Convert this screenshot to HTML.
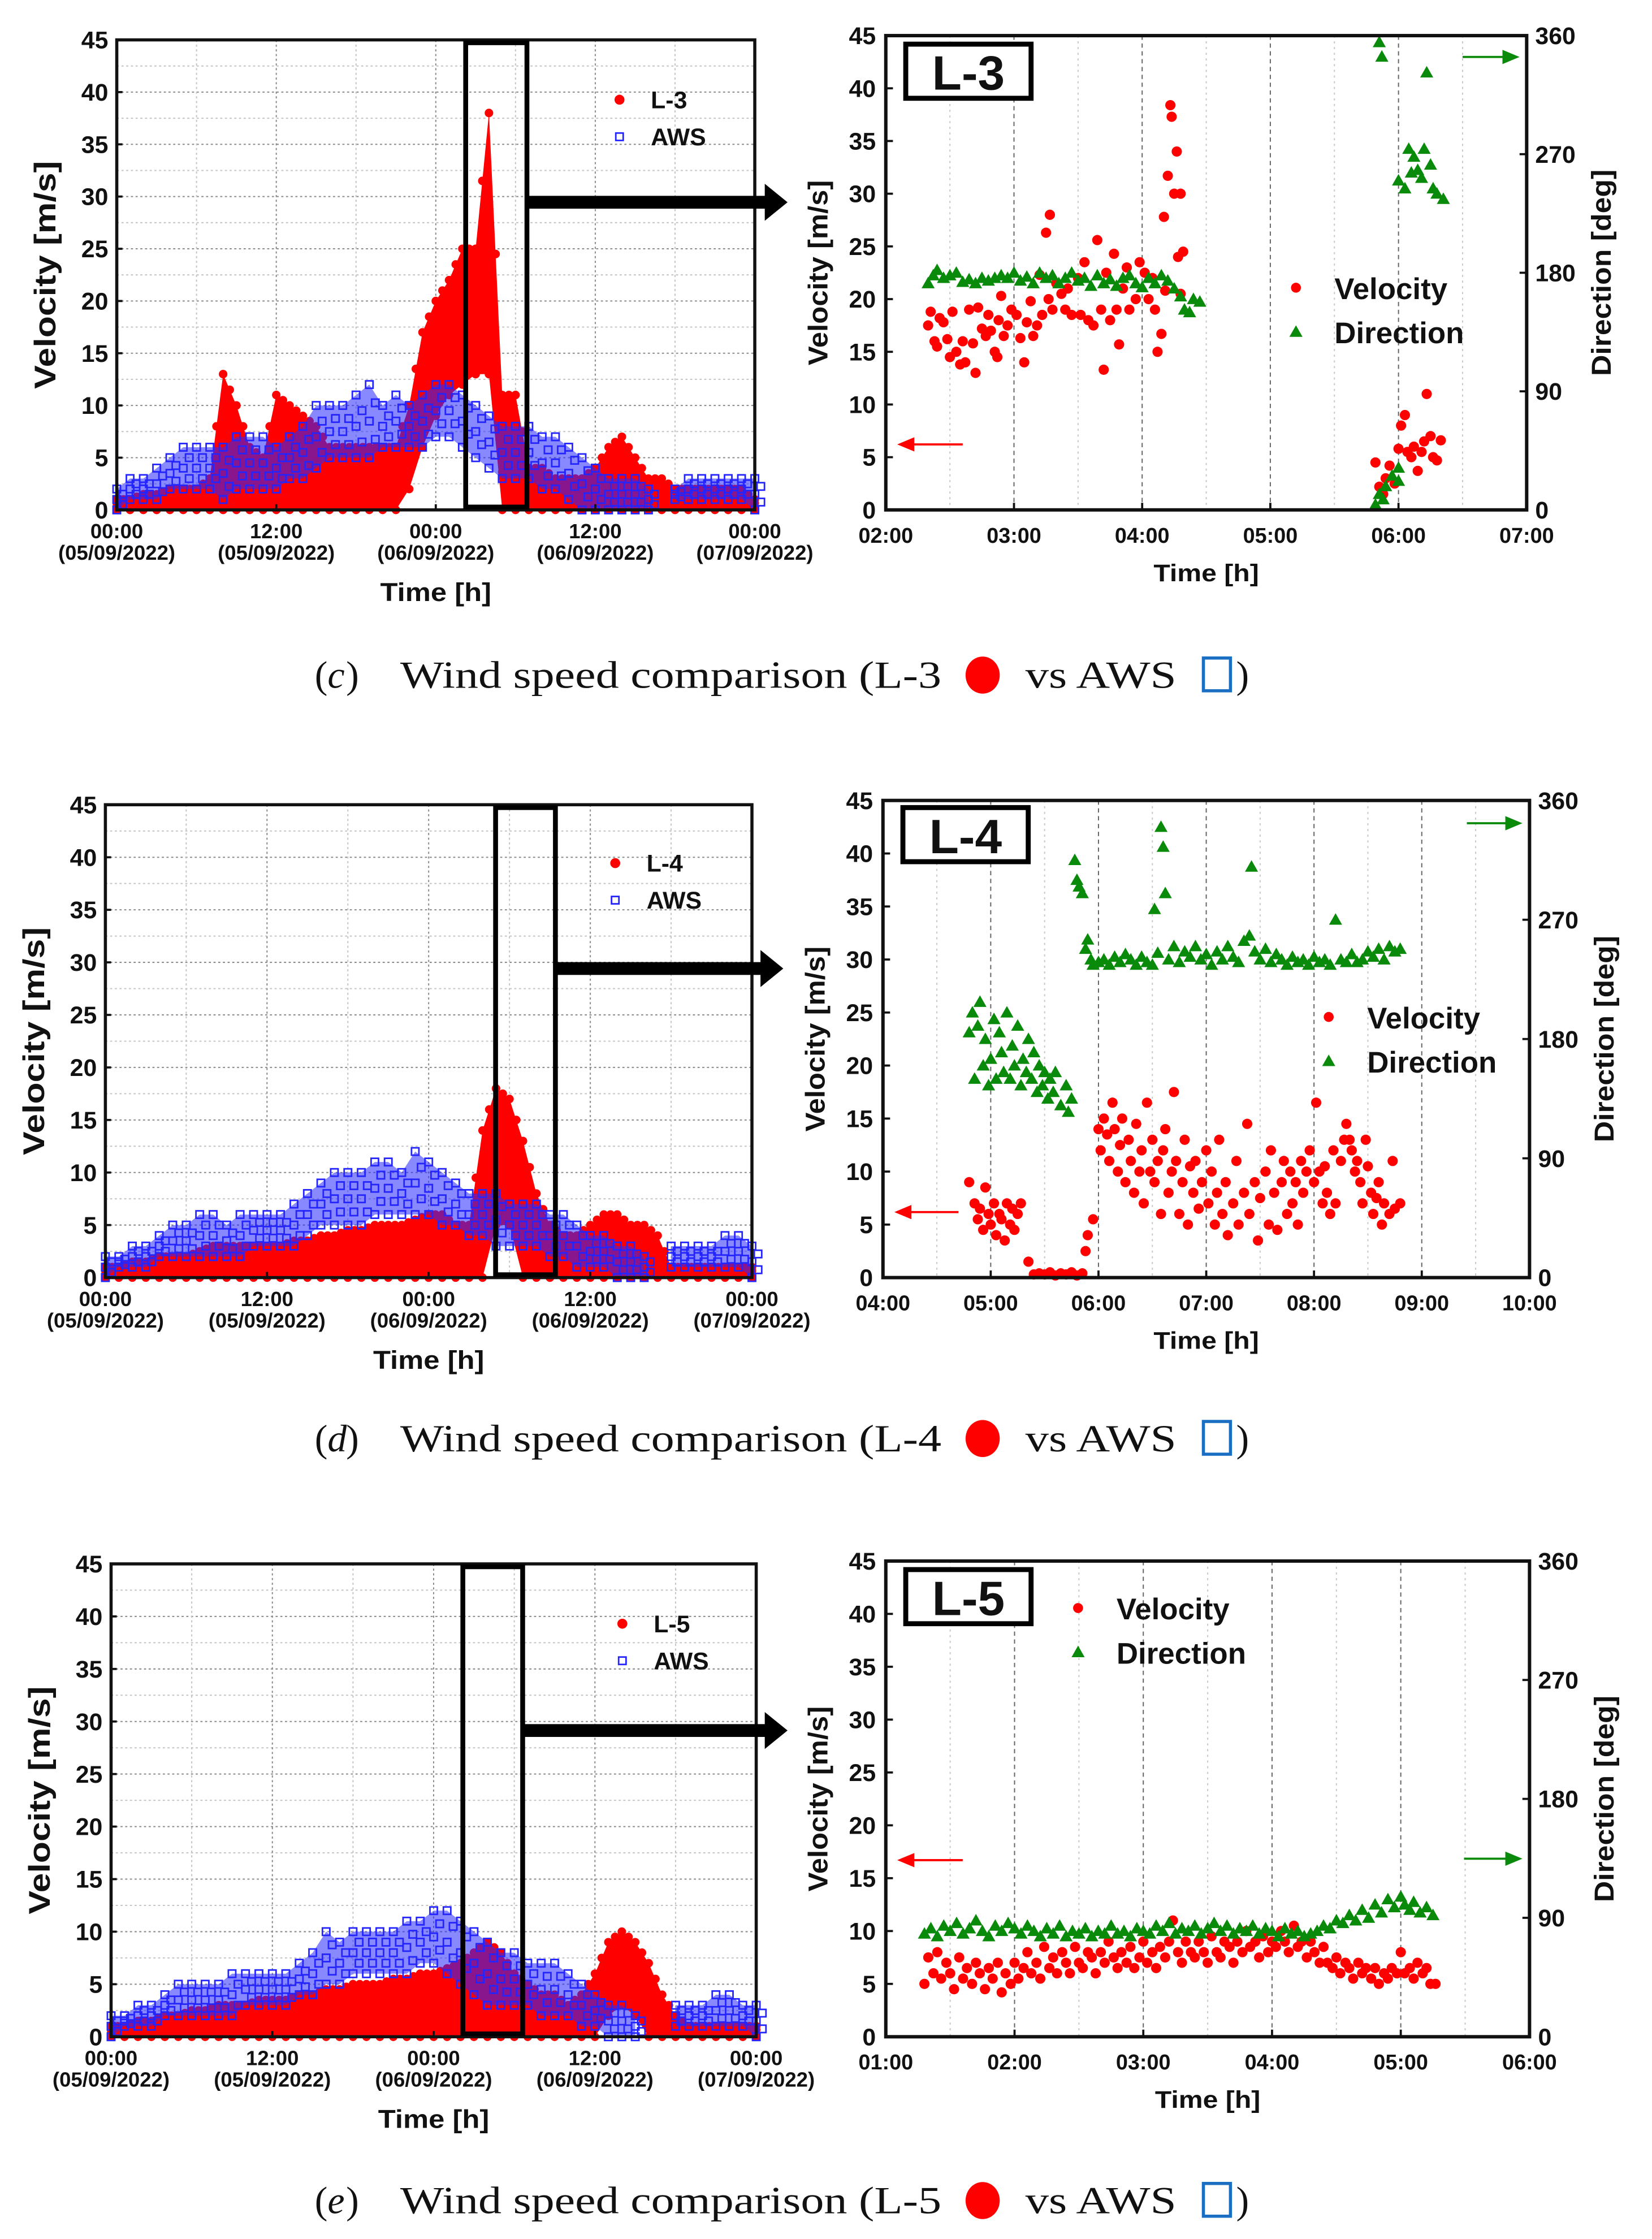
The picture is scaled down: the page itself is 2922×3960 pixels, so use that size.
<!DOCTYPE html>
<html><head><meta charset="utf-8"><title>Wind speed comparison</title>
<style>
html,body{margin:0;padding:0;background:#fff;}
svg{display:block;}
.t{font-family:"Liberation Sans",Arial,sans-serif;font-weight:bold;fill:#111;}
.cap{font-family:"Liberation Serif","Times New Roman",serif;fill:#111;}
</style></head>
<body>
<svg id="fig" width="2922" height="3960" viewBox="0 0 1160 1572" preserveAspectRatio="none"></svg>
<script>
// ---------- Data: overview charts (hourly bands, hour 0..48) ----------
const hours = [0,1,2,3,4,5,6,7,8,9,10,11,12,13,14,15,16,17,18,19,20,21,22,23,24,25,26,27,28,29,30,31,32,33,34,35,36,37,38,39,40,41,42,43,44,45,46,47,48];
const leftXTicks = ['00:00','12:00','00:00','12:00','00:00'];
const leftXDates = ['(05/09/2022)','(05/09/2022)','(06/09/2022)','(06/09/2022)','(07/09/2022)'];
const velTicks = [0,5,10,15,20,25,30,35,40,45];
const dirTicks = [0,90,180,270,360];

const cL3Hi = [1,1,1.5,1.5,2,2,2,3,13,10,6,5,11,10,9,8,6,6,6,6,6,6,10,17,20,22,25,25,38,11,11,4,4,3,3,3,4,6,7,5,3,3,2,2,2,2,2,2,1];
const cL3Lo = [0,0,0,0,0,0,0,0,0,0,0,0,0,0,0,0,0,0,0,0,0,0,2,6,9,11,12,13,13,0,0,0,0,0,0,0,0,0,0,0,0,0,0,0,0,0,0,0,0];
const cAwsLo = [0,1,1,1,2,2,2,2,1,2,2,2,2,3,3,4,5,5,5,5,6,6,6,6,7,7,6,5,4,3,3,3,2,2,1,0,0,0,0,0,0,null,1,1,1,1,1,1,0];
const cAwsHi = [2,3,3,4,5,6,6,6,6,7,7,7,6,7,8,10,10,10,11,12,10,11,10,11,12,12,11,10,9,8,8,8,7,7,6,5,4,3,3,3,2,null,2,3,3,3,3,3,3];

const dL4Hi = [1,1,1.5,1.5,2,2,2,2.5,3,3,3,3,3,3,3.5,3.5,4,4,4.5,4.5,5,5,5,5.5,6,6,5,5,14,18,17,13,8,5,4,4,5,6,6,5,5,4,1,1,1,1,1,1,1];
const dL4Lo = [0,0,0,0,0,0,0,0,0,0,0,0,0,0,0,0,0,0,0,0,0,0,0,0,0,0,0,0,0,5,5,0,0,0,0,0,0,0,0,0,0,0,0,0,0,0,0,0,0];
const dAwsLo = [0,1,1,1,2,2,2,2,2,2,2,3,3,3,3,4,5,5,5,5,6,6,6,6,6,5,5,4,4,3,3,3,3,2,2,1,1,1,0,0,0,null,1,1,1,1,1,1,0];
const dAwsHi = [2,2,3,3,4,5,5,6,6,5,6,6,6,6,7,8,9,10,10,10,11,11,10,12,11,10,9,8,8,8,7,7,7,6,6,5,4,4,3,3,2,null,3,3,3,3,4,4,3];

const eL5Hi = [1,1,1.5,1.5,2,2,2.5,2.5,3,3,3,3.5,3.5,3.5,4,4,4.5,4.5,5,5,5,5.5,5.5,6,6,6.5,7,8,9,8,6,5,4,4,3,4,6,9,10,9,7,4,2,1,1,1,1,1,1];
const eL5Lo = [0,0,0,0,0,0,0,0,0,0,0,0,0,0,0,0,0,0,0,0,0,0,0,0,0,0,0,0,0,0,0,0,0,0,0,0,0,2,3,2,0,0,0,0,0,0,0,0,0];
const eAwsLo = [0,1,1,1,2,2,2,2,2,2,3,3,3,3,4,4,5,5,6,6,6,6,6,7,7,6,5,4,3,3,3,3,2,2,2,1,1,0,0,0,null,null,1,1,1,1,1,1,0];
const eAwsHi = [2,2,3,3,4,5,5,5,5,6,6,6,6,6,7,8,10,9,10,10,10,10,11,11,12,12,11,10,9,8,8,7,7,7,6,5,4,3,3,2,null,null,3,3,3,4,4,3,3];

// ---------- Data: zoomed charts ([time in hours, value]) ----------
const cXTicks = ['02:00','03:00','04:00','05:00','06:00','07:00'];
const cVel = [[2.33,17.5],[2.35,18.8],[2.38,16],[2.4,15.5],[2.42,18.2],[2.45,17.8],[2.48,16.2],[2.5,14.5],[2.52,18.8],[2.55,15],[2.58,13.8],[2.6,16],[2.62,14],[2.65,19],[2.68,15.8],[2.7,13],[2.72,19.2],[2.75,17.2],[2.78,16.5],[2.8,18.5],[2.82,17],[2.85,15],[2.87,14.5],[2.88,18],[2.9,20.3],[2.92,16.5],[2.95,17.5],[2.98,19],[3.02,18.5],[3.05,16.3],[3.08,14],[3.1,17.8],[3.13,19.8],[3.15,16.5],[3.18,17.5],[3.2,22.3],[3.22,18.5],[3.25,26.3],[3.28,28],[3.27,20],[3.3,19],[3.33,21.5],[3.37,20.5],[3.4,19],[3.42,21],[3.45,18.5],[3.5,22],[3.52,18.5],[3.55,23.5],[3.58,18],[3.62,17.5],[3.65,25.6],[3.68,19],[3.7,13.3],[3.72,22.5],[3.75,18],[3.78,24.3],[3.8,19],[3.82,15.7],[3.85,21],[3.88,23],[3.9,19],[3.95,20],[3.98,23.5],[4.02,22.5],[4.05,20],[4.08,22],[4.1,19],[4.12,15],[4.15,16.7],[4.17,27.8],[4.18,20.8],[4.2,31.7],[4.22,38.4],[4.23,37.3],[4.27,34],[4.25,30],[4.3,30],[4.28,24],[4.32,24.5],[4.3,20.5],[5.82,4.5],[5.85,2.2],[5.88,1.5],[5.9,3],[5.93,4.2],[5.97,2.5],[6.0,5.8],[6.02,8],[6.05,9],[6.07,5.5],[6.1,5],[6.12,6],[6.15,3.7],[6.18,5.5],[6.2,6.5],[6.22,11],[6.25,7],[6.27,5],[6.3,4.7],[6.33,6.6]];
const cDir = [[2.33,172],[2.37,178],[2.4,182],[2.45,176],[2.5,178],[2.55,180],[2.6,173],[2.65,175],[2.7,172],[2.75,176],[2.8,174],[2.85,176],[2.9,178],[2.95,176],[3.0,180],[3.05,174],[3.1,177],[3.15,172],[3.2,180],[3.25,176],[3.3,178],[3.35,172],[3.4,176],[3.45,180],[3.5,174],[3.55,176],[3.6,170],[3.65,178],[3.7,172],[3.75,175],[3.8,170],[3.85,176],[3.9,178],[3.95,172],[4.0,169],[4.05,176],[4.1,172],[4.15,178],[4.2,174],[4.25,168],[4.3,162],[4.33,152],[4.37,150],[4.4,160],[4.45,158],[5.85,355],[5.87,344],[6.22,332],[6.08,274],[6.12,268],[6.2,274],[6.0,250],[6.05,244],[6.1,256],[6.15,258],[6.18,252],[6.25,262],[6.27,244],[6.3,240],[6.35,236],[5.82,4],[5.85,12],[5.9,18],[5.95,26],[6.0,32],[6.0,22],[5.88,8]];

const dXTicks = ['04:00','05:00','06:00','07:00','08:00','09:00','10:00'];
const dVel = [[4.8,9],[4.85,7],[4.88,5.5],[4.9,6.5],[4.93,4.5],[4.95,8.5],[4.98,6],[5.0,5],[5.03,7],[5.05,4],[5.08,6],[5.1,5.5],[5.13,3.5],[5.15,7],[5.18,5],[5.2,6.5],[5.22,4.5],[5.25,6],[5.28,7],[5.35,1.5],[5.4,0.3],[5.45,0.4],[5.5,0.3],[5.55,0.5],[5.6,0.2],[5.65,0.4],[5.7,0.3],[5.75,0.5],[5.8,0.2],[5.85,0.4],[5.88,2.5],[5.9,4],[5.95,5.5],[6.0,14],[6.02,12],[6.05,15],[6.08,13.5],[6.1,11],[6.13,16.5],[6.15,14],[6.18,10],[6.2,12.5],[6.22,15],[6.25,9],[6.28,13],[6.3,11],[6.33,8],[6.35,14.5],[6.38,10],[6.4,12],[6.42,7],[6.45,16.5],[6.48,10],[6.5,13],[6.52,9],[6.55,11],[6.58,6],[6.6,12],[6.62,14],[6.65,8],[6.68,10],[6.7,17.5],[6.72,11],[6.75,6],[6.78,9],[6.8,13],[6.83,5],[6.85,10.5],[6.88,8],[6.9,11],[6.93,6.5],[6.96,9],[7.0,12],[7.02,7],[7.05,10],[7.08,5],[7.1,8],[7.12,13],[7.15,6],[7.18,9],[7.2,4],[7.25,7],[7.28,11],[7.3,5],[7.35,8],[7.38,14.5],[7.4,6],[7.45,9],[7.48,3.5],[7.5,7.5],[7.55,10],[7.58,5],[7.6,12],[7.63,8],[7.66,4.5],[7.7,9],[7.72,11],[7.75,6],[7.78,10],[7.8,7],[7.83,9],[7.85,5],[7.88,11],[7.9,8],[7.93,10],[7.96,12],[8.0,9],[8.02,16.5],[8.05,10],[8.08,7],[8.1,10.5],[8.12,8],[8.15,6],[8.18,12],[8.2,7],[8.25,11],[8.28,13],[8.3,14.5],[8.33,13],[8.35,12],[8.38,10],[8.4,11],[8.43,9],[8.45,7],[8.48,13],[8.5,10.5],[8.53,8],[8.55,6],[8.58,7.5],[8.6,9],[8.63,5],[8.65,7],[8.7,6],[8.73,11],[8.75,6.5],[8.8,7]];
const dDir = [[4.8,185],[4.83,200],[4.85,150],[4.88,190],[4.9,208],[4.93,160],[4.95,180],[4.98,145],[5.0,165],[5.03,195],[5.05,150],[5.08,185],[5.1,170],[5.12,155],[5.15,200],[5.18,150],[5.2,175],[5.22,160],[5.25,190],[5.28,145],[5.3,165],[5.33,155],[5.35,180],[5.38,150],[5.4,170],[5.43,140],[5.45,160],[5.48,145],[5.5,155],[5.53,135],[5.55,150],[5.58,140],[5.6,155],[5.65,130],[5.7,145],[5.72,125],[5.75,135],[5.78,315],[5.8,300],[5.82,295],[5.85,290],[5.88,248],[5.9,255],[5.93,240],[5.95,236],[6.0,238],[6.05,240],[6.1,236],[6.15,242],[6.2,238],[6.25,244],[6.3,240],[6.35,236],[6.4,242],[6.45,238],[6.5,236],[6.52,278],[6.55,245],[6.58,340],[6.6,325],[6.62,290],[6.65,240],[6.7,250],[6.75,238],[6.8,246],[6.85,242],[6.9,250],[6.95,240],[7.0,244],[7.05,236],[7.1,246],[7.15,240],[7.2,250],[7.25,242],[7.3,238],[7.35,254],[7.4,258],[7.42,310],[7.45,246],[7.5,240],[7.55,248],[7.6,238],[7.65,244],[7.7,240],[7.75,236],[7.8,242],[7.85,238],[7.9,240],[7.95,236],[8.0,242],[8.05,238],[8.1,240],[8.15,236],[8.2,270],[8.25,240],[8.3,238],[8.35,244],[8.4,238],[8.45,240],[8.5,246],[8.55,242],[8.6,248],[8.65,240],[8.7,250],[8.75,246],[8.8,248]];

const eXTicks = ['01:00','02:00','03:00','04:00','05:00','06:00'];
const eVel = [[1.3,5],[1.33,7.5],[1.37,6],[1.4,8],[1.43,5.5],[1.47,7],[1.5,6],[1.53,4.5],[1.57,7.5],[1.6,5.5],[1.63,6.5],[1.67,5],[1.7,7],[1.73,6],[1.77,4.5],[1.8,6.5],[1.83,5.5],[1.87,7],[1.9,4.2],[1.93,6],[1.97,5],[2.0,7],[2.03,5.5],[2.07,6.5],[2.1,8],[2.13,6],[2.17,7],[2.2,5.5],[2.23,8.5],[2.27,6.5],[2.3,7.5],[2.33,6],[2.37,8],[2.4,7],[2.43,6],[2.47,8.5],[2.5,7],[2.53,6.5],[2.57,8],[2.6,7.5],[2.63,6],[2.67,8],[2.7,7],[2.73,9],[2.77,7.5],[2.8,6.5],[2.83,8],[2.87,7],[2.9,8.5],[2.93,6.5],[2.97,7.5],[3.0,9],[3.03,7],[3.07,8],[3.1,6.5],[3.13,8.5],[3.17,7.5],[3.2,9],[3.23,11],[3.27,8],[3.3,7],[3.33,9],[3.37,8],[3.4,7.5],[3.43,9],[3.47,8],[3.5,7],[3.53,9.5],[3.57,8],[3.6,7.5],[3.63,9],[3.67,8.5],[3.7,7],[3.73,9],[3.77,8],[3.8,10],[3.83,8.5],[3.87,9],[3.9,7.5],[3.93,9.5],[3.97,8],[4.0,9],[4.03,8.5],[4.07,10],[4.1,9],[4.13,8],[4.17,10.5],[4.2,8.5],[4.23,9],[4.27,7.5],[4.3,9],[4.33,8],[4.37,7],[4.4,8.5],[4.43,7],[4.47,6.5],[4.5,7.5],[4.53,6],[4.57,7],[4.6,6.5],[4.63,5.5],[4.67,7],[4.7,6],[4.73,6.5],[4.77,5.5],[4.8,6.5],[4.83,5],[4.87,6],[4.9,5.5],[4.93,6.5],[4.97,6],[5.0,8],[5.03,6],[5.07,6.5],[5.1,5.5],[5.13,7],[5.17,6],[5.2,6.5],[5.23,5],[5.27,5]];
const eDir = [[1.3,78],[1.35,82],[1.4,76],[1.45,84],[1.5,80],[1.55,86],[1.6,78],[1.65,82],[1.7,88],[1.75,80],[1.8,76],[1.85,84],[1.9,80],[1.95,86],[2.0,82],[2.05,78],[2.1,84],[2.15,80],[2.2,76],[2.25,82],[2.3,78],[2.35,84],[2.4,76],[2.45,80],[2.5,78],[2.55,82],[2.6,76],[2.65,80],[2.7,78],[2.75,84],[2.8,78],[2.85,80],[2.9,76],[2.95,82],[3.0,80],[3.05,78],[3.1,84],[3.15,80],[3.2,86],[3.25,78],[3.3,82],[3.35,80],[3.4,84],[3.45,78],[3.5,82],[3.55,86],[3.6,80],[3.65,84],[3.7,78],[3.75,82],[3.8,80],[3.85,84],[3.9,78],[3.95,82],[4.0,80],[4.05,76],[4.1,82],[4.15,78],[4.2,80],[4.25,76],[4.3,78],[4.35,80],[4.4,84],[4.45,82],[4.5,88],[4.55,86],[4.6,92],[4.65,88],[4.7,96],[4.75,90],[4.8,100],[4.85,94],[4.9,104],[4.95,98],[5.0,106],[5.03,100],[5.07,96],[5.1,102],[5.15,94],[5.2,98],[5.25,92]];

// ---------- Rendering ----------
const svg = document.getElementById('fig');
const NS = svg.namespaceURI;
function mk(tag, attrs, parent, name, inter) {
  const el = document.createElementNS(NS, tag);
  for (const k in attrs) el.setAttribute(k, attrs[k]);
  
  
  parent.appendChild(el);
  return el;
}
function txt(parent, x, y, s, size, anchor, name, cls, extra) {
  const a = {x: x, y: y, 'font-size': size, 'text-anchor': anchor || 'middle', 'class': cls || 't'};
  if (extra) for (const k in extra) a[k] = extra[k];
  const el = mk('text', a, parent, name, false);
  el.textContent = s;
  return el;
}
const RED = '#ff0000', BLUE = '#2424ff', GREEN = '#0a8a0a';

function dot(g, x, y, r, name) {
  return mk('circle', {cx: x.toFixed(2), cy: y.toFixed(2), r: r, fill: RED}, g, name, false);
}
function sq(g, x, y, name) {
  return mk('rect', {x: (x - 2.6).toFixed(2), y: (y - 2.6).toFixed(2), width: 5.2, height: 5.2, fill: 'none', stroke: BLUE, 'stroke-width': 1.1}, g, name, false);
}
function tri(g, x, y, name) {
  return mk('polygon', {points: `${x.toFixed(2)},${(y - 4.6).toFixed(2)} ${(x - 4.6).toFixed(2)},${(y + 3.5).toFixed(2)} ${(x + 4.6).toFixed(2)},${(y + 3.5).toFixed(2)}`, fill: GREEN}, g, name, false);
}

function band(g, xs, ys, lo, hi, fill, name) {
  let seg = [];
  const segs = [];
  for (let i = 0; i < hours.length; i++) {
    if (lo[i] === null || hi[i] === null) { if (seg.length) segs.push(seg); seg = []; }
    else seg.push(i);
  }
  if (seg.length) segs.push(seg);
  segs.forEach(s => {
    const pts = [];
    s.forEach(i => pts.push(xs(hours[i]).toFixed(2) + ',' + ys(hi[i]).toFixed(2)));
    s.slice().reverse().forEach(i => pts.push(xs(hours[i]).toFixed(2) + ',' + ys(lo[i]).toFixed(2)));
    mk('polygon', {points: pts.join(' '), fill: fill}, g, name, false);
  });
}

function leftChart(cfg) {
  const g = mk('g', {}, svg, cfg.name, false);
  const {x0, x1, y0, y1} = cfg;
  const xs = h => x0 + h / 48 * (x1 - x0);
  const ys = v => y1 - v / 45 * (y1 - y0);
  const grid = mk('g', {}, g, 'grid', false);
  for (let v = 2.5; v < 45; v += 2.5) {
    const major = Math.abs(v % 5) < 0.01;
    mk('line', {x1: x0, x2: x1, y1: ys(v), y2: ys(v), stroke: major ? '#8a8a8a' : '#c4c4c4', 'stroke-width': 0.8, 'stroke-dasharray': '1.5 1.8'}, grid, 'h-gridline', false);
  }
  for (let h = 6; h < 48; h += 6) {
    const major = h % 12 === 0;
    mk('line', {x1: xs(h), x2: xs(h), y1: y0, y2: y1, stroke: major ? '#8a8a8a' : '#c4c4c4', 'stroke-width': 0.8, 'stroke-dasharray': '1.5 1.8'}, grid, 'v-gridline', false);
  }
  const lg = mk('g', {}, g, 'lidar-series', false);
  band(lg, xs, ys, cfg.lo, cfg.hi, RED, 'lidar-band');
  for (let i = 0; i < hours.length; i++) {
    const lo = cfg.lo[i], hi = cfg.hi[i];
    [0, 0.33, 0.66, 1].forEach(f => {
      dot(lg, xs(hours[i]), ys(lo + (hi - lo) * f), 3, 'lidar-point');
    });
    if (i < hours.length - 1) {
      dot(lg, xs(hours[i] + 0.5), ys((hi + cfg.hi[i + 1]) / 2), 3, 'lidar-point');
    }
  }
  const ag = mk('g', {}, g, 'aws-series', false);
  band(ag, xs, ys, cfg.alo, cfg.ahi, 'rgba(40,40,255,0.55)', 'aws-band');
  for (let i = 0; i < hours.length; i++) {
    const lo = cfg.alo[i], hi = cfg.ahi[i];
    if (lo === null || hi === null) continue;
    [0, 0.25, 0.5, 0.75, 1].forEach((f, k) => {
      sq(ag, xs(hours[i] + (k % 2) * 0.45), ys(lo + (hi - lo) * f), 'aws-point');
    });
  }
  mk('rect', {x: x0, y: y0, width: x1 - x0, height: y1 - y0, fill: 'none', stroke: '#111', 'stroke-width': 2.2}, g, 'plot-frame', false);
  velTicks.forEach(v => {
    mk('line', {x1: x0, x2: x0 + 4, y1: ys(v), y2: ys(v), stroke: '#111', 'stroke-width': 1.5}, g, 'y-tick', false);
    txt(g, x0 - 6, ys(v) + 6, String(v), 17, 'end', 'y-tick-label');
  });
  leftXTicks.forEach((s, i) => {
    const x = xs(i * 12);
    mk('line', {x1: x, x2: x, y1: y1, y2: y1 - 4, stroke: '#111', 'stroke-width': 1.5}, g, 'x-tick', false);
    txt(g, x, y1 + 20, s, 14.5, 'middle', 'x-tick-label');
    txt(g, x, y1 + 35, leftXDates[i], 14.5, 'middle', 'x-tick-date');
  });
  txt(g, (x0 + x1) / 2, y1 + 64, 'Time [h]', 18, 'middle', 'x-axis-title', 't', {textLength: 78, lengthAdjust: 'spacingAndGlyphs'});
  txt(g, 0, 0, 'Velocity [m/s]', 21, 'middle', 'y-axis-title', 't', {transform: `translate(${x0 - 43},${(y0 + y1) / 2}) rotate(-90)`, textLength: 160, lengthAdjust: 'spacingAndGlyphs'});
  mk('rect', {x: cfg.bx0, y: y0 + 2, width: cfg.bx1 - cfg.bx0, height: y1 - y0 - 4, fill: 'none', stroke: '#000', 'stroke-width': 3.4}, g, 'zoom-window-box', false);
  mk('rect', {x: cfg.bx1, y: cfg.ay - 4.5, width: cfg.ax - 14 - cfg.bx1, height: 9, fill: '#000'}, g, 'zoom-arrow-shaft', false);
  mk('polygon', {points: `${cfg.ax - 16},${cfg.ay - 13} ${cfg.ax},${cfg.ay} ${cfg.ax - 16},${cfg.ay + 13}`, fill: '#000'}, g, 'zoom-arrow-head', false);
  const leg = mk('g', {}, g, 'legend', false);
  dot(leg, cfg.lx, cfg.ly, 3.5, 'legend-lidar-marker');
  txt(leg, cfg.lx + 22, cfg.ly + 6, cfg.label, 17, 'start', 'legend-lidar-label');
  sq(leg, cfg.lx, cfg.ly + 26, 'legend-aws-marker');
  txt(leg, cfg.lx + 22, cfg.ly + 32, 'AWS', 17, 'start', 'legend-aws-label');
}

function rightChart(cfg) {
  const g = mk('g', {}, svg, cfg.name, false);
  const {x0, x1, y0, y1, t0, t1} = cfg;
  const xs = t => x0 + (t - t0) / (t1 - t0) * (x1 - x0);
  const ys = v => y1 - v / 45 * (y1 - y0);
  const yd = d => y1 - d / 360 * (y1 - y0);
  const grid = mk('g', {}, g, 'grid', false);
  for (let t = t0 + 0.5; t < t1; t += 0.5) {
    const major = Math.abs(t % 1) < 0.01;
    mk('line', {x1: xs(t), x2: xs(t), y1: y0, y2: y1, stroke: major ? '#666' : '#c8c8c8', 'stroke-width': 0.8, 'stroke-dasharray': major ? '3 2.5' : '1.5 2.5'}, grid, 'v-gridline', false);
  }
  const vg = mk('g', {}, g, 'velocity-series', false);
  cfg.vel.forEach(p => dot(vg, xs(p[0]), ys(p[1]), 3.6, 'velocity-point'));
  const dg = mk('g', {}, g, 'direction-series', false);
  cfg.dir.forEach(p => tri(dg, xs(p[0]), yd(p[1]), 'direction-point'));
  mk('rect', {x: x0, y: y0, width: x1 - x0, height: y1 - y0, fill: 'none', stroke: '#111', 'stroke-width': 2.4}, g, 'plot-frame', false);
  velTicks.forEach(v => {
    mk('line', {x1: x0, x2: x0 + 5, y1: ys(v), y2: ys(v), stroke: '#111', 'stroke-width': 1.5}, g, 'y-tick', false);
    txt(g, x0 - 7, ys(v) + 6, String(v), 17, 'end', 'y-tick-label');
  });
  dirTicks.forEach(d => {
    mk('line', {x1: x1, x2: x1 - 5, y1: yd(d), y2: yd(d), stroke: '#111', 'stroke-width': 1.5}, g, 'y2-tick', false);
    txt(g, x1 + 6, yd(d) + 6, String(d), 17, 'start', 'y2-tick-label');
  });
  cfg.ticks.forEach((s, i) => {
    const x = xs(t0 + i);
    mk('line', {x1: x, x2: x, y1: y1, y2: y1 - 5, stroke: '#111', 'stroke-width': 1.5}, g, 'x-tick', false);
    txt(g, x, y1 + 23, s, 15, 'middle', 'x-tick-label');
  });
  txt(g, (x0 + x1) / 2, y1 + 50, 'Time [h]', 17, 'middle', 'x-axis-title', 't', {textLength: 74, lengthAdjust: 'spacingAndGlyphs'});
  txt(g, 0, 0, 'Velocity [m/s]', 19, 'middle', 'y-axis-title', 't', {transform: `translate(${x0 - 41},${(y0 + y1) / 2}) rotate(-90)`, textLength: 130, lengthAdjust: 'spacingAndGlyphs'});
  txt(g, 0, 0, 'Direction [deg]', 19, 'middle', 'y2-axis-title', 't', {transform: `translate(${x1 + 59},${(y0 + y1) / 2}) rotate(-90)`, textLength: 145, lengthAdjust: 'spacingAndGlyphs'});
  mk('rect', {x: x0 + 14, y: cfg.by, width: 88, height: 38, fill: '#fff', stroke: '#000', 'stroke-width': 3.5}, g, 'sensor-label-box', false);
  txt(g, x0 + 58, cfg.by + 32, cfg.label, 34, 'middle', 'sensor-label');
  const leg = mk('g', {}, g, 'legend', false);
  dot(leg, cfg.lx, cfg.ly, 3.5, 'legend-velocity-marker');
  txt(leg, cfg.lx + 27, cfg.ly + 8, 'Velocity', 21, 'start', 'legend-velocity-label');
  tri(leg, cfg.lx, cfg.ly + 31, 'legend-direction-marker');
  txt(leg, cfg.lx + 27, cfg.ly + 39, 'Direction', 21, 'start', 'legend-direction-label');
  mk('line', {x1: cfg.rax1, x2: x0 + 10, y1: cfg.ray, y2: cfg.ray, stroke: RED, 'stroke-width': 1.5}, g, 'velocity-axis-arrow', false);
  mk('polygon', {points: `${x0 + 8},${cfg.ray} ${x0 + 20},${cfg.ray - 5} ${x0 + 20},${cfg.ray + 5}`, fill: RED}, g, 'velocity-axis-arrowhead', false);
  mk('line', {x1: cfg.gax0, x2: x1 - 8, y1: cfg.gay, y2: cfg.gay, stroke: GREEN, 'stroke-width': 1.5}, g, 'direction-axis-arrow', false);
  mk('polygon', {points: `${x1 - 5},${cfg.gay} ${x1 - 17},${cfg.gay - 5} ${x1 - 17},${cfg.gay + 5}`, fill: GREEN}, g, 'direction-axis-arrowhead', false);
}

function caption(y, letter, label, name) {
  const g = mk('g', {}, svg, name, false);
  txt(g, 221, y, '(', 27, 'start', 'caption-paren', 'cap');
  txt(g, 230, y, letter, 27, 'start', 'caption-letter', 'cap', {'font-style': 'italic'});
  txt(g, 243, y, ')', 27, 'start', 'caption-paren', 'cap');
  txt(g, 281, y, 'Wind speed comparison (' + label, 27, 'start', 'caption-text', 'cap', {textLength: 380, lengthAdjust: 'spacingAndGlyphs'});
  mk('ellipse', {cx: 690, cy: y - 9, rx: 12, ry: 13, fill: RED}, g, 'caption-lidar-marker', false);
  txt(g, 720, y, 'vs AWS', 27, 'start', 'caption-aws-text', 'cap', {textLength: 106, lengthAdjust: 'spacingAndGlyphs'});
  mk('rect', {x: 845, y: y - 21, width: 19, height: 23, fill: 'none', stroke: '#1a6fc2', 'stroke-width': 2.2}, g, 'caption-aws-marker', false);
  txt(g, 868, y, ')', 27, 'start', 'caption-close', 'cap');
}

leftChart({name: 'chart-c-overview', x0: 82, x1: 530, y0: 28, y1: 358, lo: cL3Lo, hi: cL3Hi, alo: cAwsLo, ahi: cAwsHi, bx0: 327, bx1: 370, ay: 142, ax: 553, lx: 435, ly: 70, label: 'L-3'});
rightChart({name: 'chart-c-zoom', x0: 622, x1: 1072, y0: 25, y1: 358, t0: 2, t1: 7, ticks: cXTicks, vel: cVel, dir: cDir, by: 31, label: 'L-3', lx: 910, ly: 202, ray: 312, rax1: 676, gay: 40, gax0: 1027});
caption(483, 'c', 'L-3', 'caption-c');

leftChart({name: 'chart-d-overview', x0: 74, x1: 528, y0: 565, y1: 897, lo: dL4Lo, hi: dL4Hi, alo: dAwsLo, ahi: dAwsHi, bx0: 348, bx1: 390, ay: 680, ax: 550, lx: 432, ly: 606, label: 'L-4'});
rightChart({name: 'chart-d-zoom', x0: 620, x1: 1074, y0: 562, y1: 897, t0: 4, t1: 10, ticks: dXTicks, vel: dVel, dir: dDir, by: 567, label: 'L-4', lx: 933, ly: 714, ray: 851, rax1: 673, gay: 578, gax0: 1030});
caption(1019, 'd', 'L-4', 'caption-d');

leftChart({name: 'chart-e-overview', x0: 78, x1: 531, y0: 1098, y1: 1430, lo: eL5Lo, hi: eL5Hi, alo: eAwsLo, ahi: eAwsHi, bx0: 325, bx1: 367, ay: 1215, ax: 553, lx: 437, ly: 1140, label: 'L-5'});
rightChart({name: 'chart-e-zoom', x0: 622, x1: 1074, y0: 1096, y1: 1430, t0: 1, t1: 6, ticks: eXTicks, vel: eVel, dir: eDir, by: 1102, label: 'L-5', lx: 757, ly: 1129, ray: 1306, rax1: 676, gay: 1305, gax0: 1028});
caption(1554, 'e', 'L-5', 'caption-e');
</script>
</body></html>
